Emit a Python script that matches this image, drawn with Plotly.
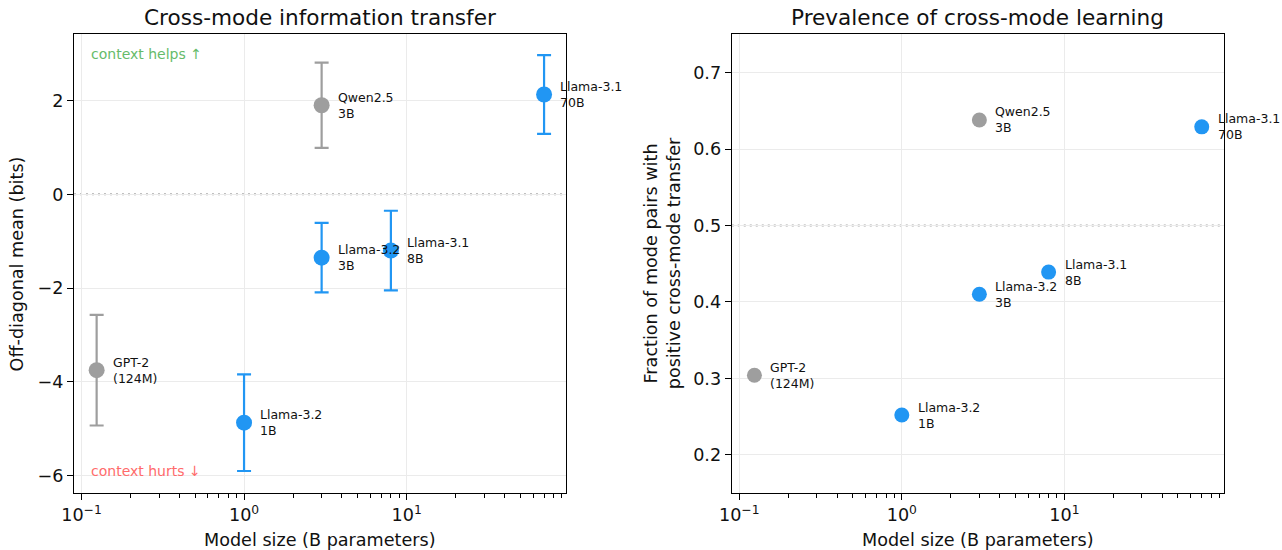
import numpy as np
import plotly.graph_objects as go

models = ["GPT-2", "Llama-3.2", "Qwen2.5", "Llama-3.2", "Llama-3.1", "Llama-3.1"]
sizes_label = ["(124M)", "1B", "3B", "3B", "8B", "70B"]
sizes_b = [0.124, 1.0, 3.0, 3.0, 8.0, 70.0]
families = ["gray", "blue", "gray", "blue", "blue", "blue"]
offdiag_mean = [-3.75, -4.87, 1.90, -1.35, -1.20, 2.13]
offdiag_err = [1.18, 1.03, 0.91, 0.74, 0.85, 0.84]
frac_positive = [0.304, 0.252, 0.638, 0.410, 0.439, 0.629]

BLUE = "#2196F3"
GRAY = "#9E9E9E"
FONT = "DejaVu Sans"
TXT = "#111111"

fig = go.Figure()

for grp, col in (("gray", GRAY), ("blue", BLUE)):
    idx = [i for i, f in enumerate(families) if f == grp]
    fig.add_trace(go.Scatter(
        x=[sizes_b[i] for i in idx], y=[offdiag_mean[i] for i in idx],
        mode="markers", marker=dict(size=16, color=col),
        error_y=dict(type="data", array=[offdiag_err[i] for i in idx],
                     color=col, thickness=2.2, width=7),
        xaxis="x", yaxis="y", showlegend=False, hoverinfo="skip"))
    fig.add_trace(go.Scatter(
        x=[sizes_b[i] for i in idx], y=[frac_positive[i] for i in idx],
        mode="markers", marker=dict(size=15, color=col),
        xaxis="x2", yaxis="y2", showlegend=False, hoverinfo="skip"))

dotline = dict(color="#aaaaaa", width=2, dash="2px,4px")
fig.add_shape(type="line", xref="x domain", yref="y", x0=0, x1=1, y0=0, y1=0,
              line=dotline, layer="below")
fig.add_shape(type="line", xref="x2 domain", yref="y2", x0=0, x1=1, y0=0.5, y1=0.5,
              line=dotline, layer="below")

annots = []
for i in range(len(models)):
    txt = f"{models[i]}<br>{sizes_label[i]}"
    for xr_, yr_, yv in (("x", "y", offdiag_mean[i]), ("x2", "y2", frac_positive[i])):
        annots.append(dict(x=np.log10(sizes_b[i]), y=yv, xref=xr_, yref=yr_, text=txt,
                           showarrow=False, xanchor="left", yanchor="middle", align="left",
                           xshift=14, font=dict(family=FONT, size=12.5, color=TXT)))

annots.append(dict(x=0.03, y=0.956, xref="x domain", yref="y domain", text="context helps ↑",
                   showarrow=False, xanchor="left", yanchor="middle",
                   font=dict(family=FONT, size=14, color="#66BB6A")))
annots.append(dict(x=0.03, y=0.048, xref="x domain", yref="y domain", text="context hurts ↓",
                   showarrow=False, xanchor="left", yanchor="middle",
                   font=dict(family=FONT, size=14, color="#FF6B6B")))

for ax, title in (("x", "Cross-mode information transfer"), ("x2", "Prevalence of cross-mode learning")):
    annots.append(dict(x=0.5, y=0.969, xref=f"{ax} domain", yref="paper", text=title,
                       showarrow=False, xanchor="center", yanchor="middle",
                       font=dict(family=FONT, size=21.6, color=TXT)))
    annots.append(dict(x=0.5, y=0.018, xref=f"{ax} domain", yref="paper",
                       text="Model size (B parameters)",
                       showarrow=False, xanchor="center", yanchor="middle",
                       font=dict(family=FONT, size=17.6, color=TXT)))

annots.append(dict(x=0.014, y=0.521, xref="paper", yref="paper", text="Off-diagonal mean (bits)",
                   showarrow=False, textangle=-90, xanchor="center", yanchor="middle",
                   font=dict(family=FONT, size=17.6, color=TXT)))
annots.append(dict(x=0.517, y=0.521, xref="paper", yref="paper",
                   text="Fraction of mode pairs with<br>positive cross-mode transfer",
                   showarrow=False, textangle=-90, xanchor="center", yanchor="middle",
                   font=dict(family=FONT, size=17.6, color=TXT)))

xr = [-1.046, 1.98]
tickvals = [0.1, 1, 10]
ticktext = ["10<sup>−1</sup>", "10<sup>0</sup>", "10<sup>1</sup>"]
minor_vals = [v * m for v in (0.1, 1, 10) for m in range(2, 10)]

def xaxis_cfg(domain, anchor):
    return dict(domain=domain, anchor=anchor, type="log", range=xr, automargin=False,
                tickvals=tickvals, ticktext=ticktext,
                showline=True, linecolor="black", linewidth=1.2, mirror=True,
                ticks="outside", ticklen=6, tickcolor="black", tickwidth=1.1,
                showgrid=True, gridcolor="#ebebeb", gridwidth=1, zeroline=False,
                minor=dict(ticks="outside", ticklen=3.5, tickcolor="black", tickwidth=0.9,
                           tickvals=minor_vals, showgrid=False),
                tickfont=dict(family=FONT, size=17.6, color=TXT))

def yaxis_cfg(domain, anchor, rng, dtick):
    return dict(domain=domain, anchor=anchor, range=rng, dtick=dtick, automargin=False,
                showline=True, linecolor="black", linewidth=1.2, mirror=True,
                ticks="outside", ticklen=6, tickcolor="black", tickwidth=1.1,
                showgrid=True, gridcolor="#ebebeb", gridwidth=1, zeroline=False,
                tickfont=dict(family=FONT, size=17.6, color=TXT))

fig.update_layout(
    width=1282, height=550, margin=dict(l=0, r=0, t=0, b=0),
    paper_bgcolor="white", plot_bgcolor="white", showlegend=False,
    xaxis=xaxis_cfg([0.0577, 0.4415], "y"),
    yaxis=yaxis_cfg([0.1036, 0.9382], "x", [-6.37, 3.42], 2),
    xaxis2=xaxis_cfg([0.5708, 0.9545], "y2"),
    yaxis2=yaxis_cfg([0.1036, 0.9382], "x2", [0.15, 0.7505], 0.1),
    annotations=annots,
)

fig.write_html("out.html")
